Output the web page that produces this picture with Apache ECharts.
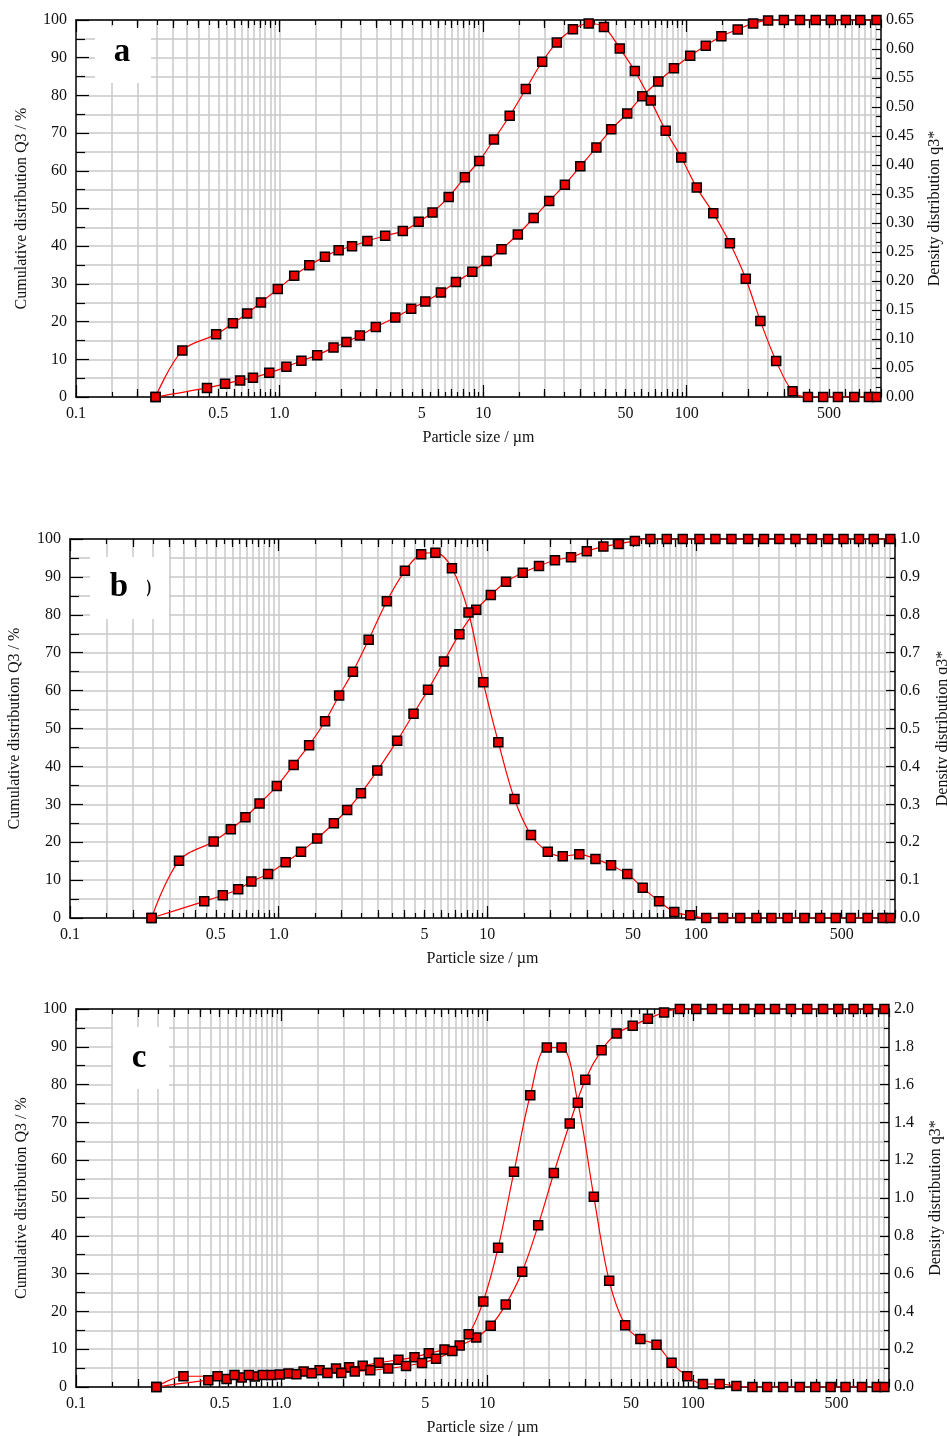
<!DOCTYPE html>
<html>
<head>
<meta charset="utf-8">
<script src="https://cdn.jsdelivr.net/npm/echarts@6/dist/echarts.min.js"></script>
<style>
  html, body { margin: 0; padding: 0; background: #fff; }
  #chart { width: 947px; height: 1436px; }
</style>
</head>
<body>
<div id="chart"></div>
<script>
// Particle size classes (µm): cumulative values are given at the upper class edges,
// density values at the class centres.
const sizeEdge = [0.246, 0.44, 0.54, 0.64, 0.74, 0.89, 1.08, 1.28, 1.53, 1.84,
  2.13, 2.48, 2.97, 3.7, 4.43, 5.2, 6.2, 7.35, 8.85, 10.4,
  12.3, 14.8, 17.7, 21.1, 25.2, 30, 36, 42.6, 51, 60.5,
  72.5, 86.5, 104, 124, 148, 178, 212, 251, 300, 360,
  430, 510, 605, 712, 855];
const sizeMid = [0.246, 0.333, 0.488, 0.59, 0.693, 0.81, 0.98, 1.18, 1.4, 1.67,
  1.95, 2.27, 2.7, 3.3, 4.03, 4.82, 5.64, 6.77, 8.13, 9.57,
  11.3, 13.5, 16.2, 19.5, 23, 27.6, 33, 39.2, 46.9, 55.6,
  66.6, 78.8, 94, 112, 135, 163, 195, 230, 275, 331,
  394, 468, 553, 665, 785, 855];

// Sample a
const cumA = [0, 2.4, 3.5, 4.4, 5.1, 6.4, 8.0, 9.6, 11.1, 13.1,
  14.6, 16.3, 18.6, 21.1, 23.4, 25.3, 27.7, 30.5, 33.2, 36.1,
  39.2, 43.1, 47.5, 52.0, 56.3, 61.2, 66.2, 71.0, 75.2, 79.8,
  83.7, 87.2, 90.5, 93.2, 95.7, 97.5, 99.1, 99.9, 100, 100,
  100, 100, 100, 100, 100];
const densA = [0, 0.080, 0.108, 0.127, 0.144, 0.163, 0.186, 0.209, 0.227, 0.242,
  0.253, 0.260, 0.269, 0.278, 0.286, 0.302, 0.318, 0.345, 0.379, 0.407,
  0.444, 0.485, 0.531, 0.578, 0.611, 0.634, 0.644, 0.638, 0.601, 0.562,
  0.511, 0.459, 0.413, 0.361, 0.317, 0.265, 0.204, 0.131, 0.062, 0.010,
  0, 0, 0, 0, 0, 0];

// Sample b
const cumB = [0, 4.4, 6.0, 7.6, 9.6, 11.6, 14.7, 17.5, 21.0, 25.0,
  28.5, 32.9, 38.9, 46.8, 53.9, 60.2, 67.7, 74.9, 81.3, 85.2,
  88.7, 91.1, 92.9, 94.4, 95.2, 96.8, 98.0, 98.7, 99.5, 100,
  100, 100, 100, 100, 100, 100, 100, 100, 100, 100,
  100, 100, 100, 100, 100];
const densB = [0, 0.151, 0.202, 0.234, 0.266, 0.302, 0.348, 0.404, 0.456, 0.519,
  0.587, 0.650, 0.734, 0.836, 0.916, 0.960, 0.964, 0.923, 0.806, 0.622,
  0.464, 0.314, 0.219, 0.175, 0.163, 0.168, 0.156, 0.139, 0.116, 0.080,
  0.044, 0.016, 0.007, 0, 0, 0, 0, 0, 0, 0,
  0, 0, 0, 0, 0, 0];

// Sample c
const cumC = [0, 1.8, 2.1, 2.5, 2.8, 3.2, 3.6, 4.1, 4.4, 4.9,
  5.2, 5.6, 6.4, 7.2, 7.9, 8.9, 9.9, 11.0, 13.1, 16.2,
  21.8, 30.5, 42.8, 56.6, 69.7, 81.3, 89.1, 93.5, 95.6, 97.4,
  99.1, 100, 100, 100, 100, 100, 100, 100, 100, 100,
  100, 100, 100, 100, 100];
const densC = [0, 0.057, 0.057, 0.064, 0.064, 0.064, 0.066, 0.067, 0.073, 0.074,
  0.074, 0.082, 0.088, 0.098, 0.111, 0.127, 0.150, 0.191, 0.279, 0.453,
  0.737, 1.139, 1.544, 1.796, 1.796, 1.504, 1.007, 0.562, 0.327, 0.254,
  0.224, 0.128, 0.057, 0.016, 0.016, 0.005, 0, 0, 0, 0,
  0, 0, 0, 0, 0, 0];

// Size axis tick labels
const xLabelValues = [0.1, 0.5, 1, 5, 10, 50, 100, 500];
const xLabelTexts = ['0.1', '0.5', '1.0', '5', '10', '50', '100', '500'];
const panelLetters = ['a', 'b', 'c'];

const FONT = 'Liberation Serif';
const X_MIN = 0.1, X_MAX = 900;

// Log-grid positions: decades, whole multiples and half multiples
const decadeVals = [0.1, 1, 10, 100];
const wholeVals = [];
const gridVals = [];
decadeVals.forEach(function (d) {
  for (let m = 2; m <= 9; m++) wholeVals.push(+(m * d).toPrecision(6));
  for (let m = 3; m <= 20; m++) {
    const v = +(m * d / 2).toPrecision(6);
    if (v < X_MAX) gridVals.push(v);
  }
});

const GRID_COLOR = '#c8c8c8';
const TEXT_COLOR = '#111';

const panels = [
  { grid: { left: 76, top: 20, width: 805, height: 377 },
    cum: cumA, dens: densA, dMax: 0.65, dStep: 0.05, dDec: 2, dMinor: 3,
    leftGap: 46, rightGap: 46 },
  { grid: { left: 70, top: 539, width: 825, height: 379 },
    cum: cumB, dens: densB, dMax: 1.0, dStep: 0.1, dDec: 1, dMinor: 2,
    leftGap: 47, rightGap: 40 },
  { grid: { left: 76, top: 1009, width: 813, height: 378 },
    cum: cumC, dens: densC, dMax: 2.0, dStep: 0.2, dDec: 1, dMinor: 2,
    leftGap: 46, rightGap: 39 }
];

function pairs(xs, ys) {
  return xs.map(function (x, i) { return [x, ys[i]]; });
}

function sizeAxis(p, position, opts) {
  return Object.assign({
    gridIndex: p, type: 'log', logBase: 10, min: X_MIN, max: X_MAX, position: position,
    axisLine: { show: false, onZero: false },
    axisTick: { show: true, inside: true },
    axisLabel: { show: false },
    splitLine: { show: false },
    z: 3
  }, opts);
}

const grids = [], xAxes = [], yAxes = [], series = [], graphics = [];

panels.forEach(function (cfg, p) {
  grids.push(Object.assign({ outerBoundsMode: 'none', containLabel: false }, cfg.grid));

  const tickStyle = { color: '#000', width: 1.2 };
  const lineStyle = { color: '#000', width: 1.5 };
  // bottom: grid lines + short ticks
  xAxes.push(sizeAxis(p, 'bottom', {
    z: 0,
    axisTick: { show: true, inside: true, length: 5, customValues: gridVals, lineStyle: tickStyle },
    splitLine: { show: true, lineStyle: { color: GRID_COLOR, width: 1.5 } }
  }));
  // bottom: whole-multiple ticks
  xAxes.push(sizeAxis(p, 'bottom', {
    axisTick: { show: true, inside: true, length: 8, customValues: wholeVals, lineStyle: tickStyle }
  }));
  // bottom: decade ticks, axis line, labels and title
  xAxes.push(sizeAxis(p, 'bottom', {
    axisLine: { show: true, onZero: false, lineStyle: lineStyle },
    axisTick: { show: true, inside: true, length: 12, customValues: decadeVals, lineStyle: tickStyle },
    axisLabel: {
      show: true, customValues: xLabelValues, margin: 9,
      fontFamily: FONT, fontSize: 16, color: TEXT_COLOR,
      formatter: function (v) {
        let best = 0;
        xLabelValues.forEach(function (lv, i) {
          if (Math.abs(Math.log10(lv) - Math.log10(v)) < Math.abs(Math.log10(xLabelValues[best]) - Math.log10(v))) best = i;
        });
        return xLabelTexts[best];
      }
    },
    name: 'Particle size / µm', nameLocation: 'middle', nameGap: 33,
    nameTextStyle: { fontFamily: FONT, fontSize: 16, color: TEXT_COLOR }
  }));
  // top: mirrored ticks
  xAxes.push(sizeAxis(p, 'top', {
    axisTick: { show: true, inside: true, length: 5, customValues: gridVals, lineStyle: tickStyle }
  }));
  xAxes.push(sizeAxis(p, 'top', {
    axisTick: { show: true, inside: true, length: 8, customValues: wholeVals, lineStyle: tickStyle }
  }));
  xAxes.push(sizeAxis(p, 'top', {
    axisLine: { show: true, onZero: false, lineStyle: lineStyle },
    axisTick: { show: true, inside: true, length: 12, customValues: decadeVals, lineStyle: tickStyle }
  }));

  // left: cumulative distribution
  yAxes.push({
    gridIndex: p, type: 'value', position: 'left', min: 0, max: 100, interval: 10,
    axisLine: { show: true, onZero: false, lineStyle: lineStyle },
    axisTick: { show: true, inside: true, length: 13, lineStyle: tickStyle },
    minorTick: { show: true, splitNumber: 2, length: 9, lineStyle: tickStyle },
    splitLine: { show: true, lineStyle: { color: GRID_COLOR, width: 1.5 } },
    minorSplitLine: { show: true, lineStyle: { color: GRID_COLOR, width: 1.5 } },
    axisLabel: { margin: 9, fontFamily: FONT, fontSize: 16, color: TEXT_COLOR },
    name: 'Cumulative distribution Q3 / %', nameLocation: 'middle', nameGap: cfg.leftGap,
    nameTextStyle: { fontFamily: FONT, fontSize: 16, color: TEXT_COLOR }
  });
  // right: density distribution
  yAxes.push({
    gridIndex: p, type: 'value', position: 'right', min: 0, max: cfg.dMax, interval: cfg.dStep,
    axisLine: { show: true, onZero: false, lineStyle: lineStyle },
    axisTick: { show: true, inside: true, length: 9, lineStyle: tickStyle },
    minorTick: { show: true, splitNumber: cfg.dMinor, length: 5, lineStyle: tickStyle },
    splitLine: { show: false },
    axisLabel: {
      margin: 5, fontFamily: FONT, fontSize: 16, color: TEXT_COLOR,
      formatter: function (v) { return v.toFixed(cfg.dDec); }
    },
    name: 'Density distribution q3*', nameLocation: 'middle', nameGap: cfg.rightGap,
    nameTextStyle: { fontFamily: FONT, fontSize: 16, color: TEXT_COLOR }
  });

  const common = {
    type: 'line', smooth: 0.35, symbol: 'rect', symbolSize: 9, showSymbol: true,
    xAxisIndex: p * 6 + 2,
    lineStyle: { color: '#ff0000', width: 1.2 },
    itemStyle: { color: '#ee0000', borderColor: '#000', borderWidth: 1.5 },
    z: 4, animation: false
  };
  series.push(Object.assign({}, common, {
    name: 'Q3 ' + panelLetters[p], yAxisIndex: p * 2, data: pairs(sizeEdge, cfg.cum)
  }));
  series.push(Object.assign({}, common, {
    name: 'q3* ' + panelLetters[p], yAxisIndex: p * 2 + 1, data: pairs(sizeMid, cfg.dens)
  }));
});

// Panel letters on white boxes
const letterBoxes = [
  { x: 95, y: 27, w: 56, h: 56, tx: 122, ty: 52 },
  { x: 90, y: 557, w: 79, h: 62, tx: 119, ty: 587 },
  { x: 113, y: 1027, w: 56, h: 62, tx: 139, ty: 1058 }
];
letterBoxes.forEach(function (b, i) {
  graphics.push({ type: 'rect', z: 1, shape: { x: b.x, y: b.y, width: b.w, height: b.h }, style: { fill: '#fff' } });
  graphics.push({
    type: 'text', z: 5, x: b.tx, y: b.ty,
    style: { text: panelLetters[i], fontFamily: FONT, fontWeight: 'bold', fontSize: 33, fill: '#000', align: 'center', verticalAlign: 'middle' }
  });
});
graphics.push({
  type: 'text', z: 5, x: 148, y: 588,
  style: { text: ')', fontFamily: FONT, fontSize: 20, fill: '#000', align: 'center', verticalAlign: 'middle' }
});
graphics.push({ type: 'rect', z: 6, shape: { x: 140, y: 570, width: 7, height: 30 }, style: { fill: '#fff' } });

const chart = echarts.init(document.getElementById('chart'), null, { renderer: 'canvas' });
chart.setOption({
  animation: false,
  backgroundColor: '#fff',
  grid: grids,
  xAxis: xAxes,
  yAxis: yAxes,
  series: series,
  graphic: graphics
});
</script>
</body>
</html>
